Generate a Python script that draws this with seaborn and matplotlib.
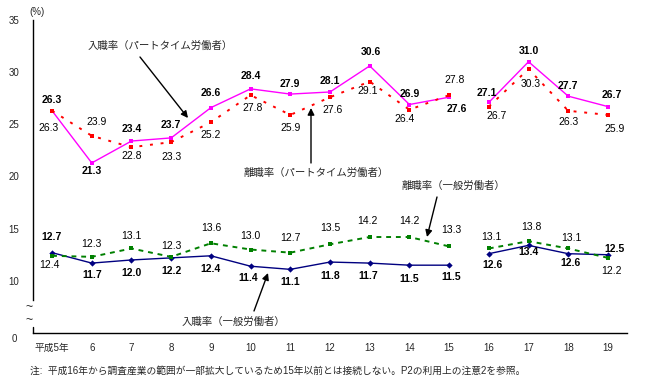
import numpy as np
import pandas as pd
import matplotlib
matplotlib.use("Agg")
import matplotlib.pyplot as plt
import seaborn as sns

# ---------------- data ----------------
years = ["平成5年", "6", "7", "8", "9", "10", "11", "12", "13", "14", "15",
         "16", "17", "18", "19"]
pt_entry = [26.3, 21.3, 23.4, 23.7, 26.6, 28.4, 27.9, 28.1, 30.6, 26.9, 27.6,
            27.1, 31.0, 27.7, 26.7]
pt_sep = [26.3, 23.9, 22.8, 23.3, 25.2, 27.8, 25.9, 27.6, 29.1, 26.4, 27.8,
          26.7, 30.3, 26.3, 25.9]
gen_entry = [12.7, 11.7, 12.0, 12.2, 12.4, 11.4, 11.1, 11.8, 11.7, 11.5, 11.5,
             12.6, 13.4, 12.6, 12.5]
gen_sep = [12.4, 12.3, 13.1, 12.3, 13.6, 13.0, 12.7, 13.5, 14.2, 14.2, 13.3,
           13.1, 13.8, 13.1, 12.2]
segment = [0] * 11 + [1] * 4   # series break between 15 and 16
yticks = [10, 15, 20, 25, 30, 35]

# ---------------- label offsets (pixels) ----------------
off_pt_entry = [(0, 11), (0, -8), (0, 12), (0, 13), (0, 15), (0, 13), (0, 10), (0, 11),
                (1, 14), (0, 11), (8, -12), (-2, 9), (0, 11), (0, 10), (4, 12)]
off_pt_sep = [(-3, -17), (5, 14), (0, -9), (0, -15), (0, -13), (2, -13), (0, -13), (3, -13),
              (-2, -9), (-5, -9), (6, 15), (8, -9), (2, -15), (0, -11), (7, -14)]
off_gen_entry = [(0, 16), (0, -12), (0, -13), (0, -13), (0, -13), (-2, -12), (0, -13), (0, -14),
                 (-1, -13), (0, -14), (2, -12), (4, -11), (0, -7), (2, -9), (7, 6)]
off_gen_sep = [(-3, -9), (0, 13), (0, 12), (0, 11), (0, 15), (0, 14), (0, 15), (0, 16),
               (-2, 16), (0, 16), (2, 16), (3, 11), (3, 14), (3, 10), (4, -13)]

sns.set_style("white")
plt.rcParams["font.family"] = ["Liberation Sans", "Noto Sans CJK JP", "DejaVu Sans"]

W, H = 645, 384
fig = plt.figure(figsize=(W / 100, H / 100), dpi=100)
ax = fig.add_axes([33 / W, 1 - 333 / H, (627 - 33) / W, (333 - 20) / H])

x = list(range(len(years)))
series = [
    ("pt_entry", pt_entry, "#FF00FF", "s", 2.8, None, 1.0),
    ("pt_sep", pt_sep, "#FF0000", "s", 3.2, (1.5, 4.0), 1.4),
    ("gen_entry", gen_entry, "#000080", "D", 3.2, None, 1.0),
    ("gen_sep", gen_sep, "#008000", "s", 3.0, (2.5, 2.5), 1.4),
]
for name, vals, col, mk, ms, dash, lw in series:
    df = pd.DataFrame({"x": x, "v": vals, "seg": segment})
    sns.lineplot(data=df, x="x", y="v", units="seg", estimator=None, ax=ax,
                 color=col, marker=mk, markersize=ms, markeredgewidth=0,
                 linewidth=lw, legend=False)
    if dash is not None:
        for ln in ax.lines[-2:]:
            ln.set_dashes(dash)

def labels(vals, offs, bold):
    for i, (v, (dx, dy)) in enumerate(zip(vals, offs)):
        ax.annotate(f"{v:.1f}", xy=(i, v), xytext=(dx, dy), textcoords="offset pixels",
                    ha="center", va="center", fontsize=7.5,
                    fontweight="bold" if bold else "normal", color="black")

labels(pt_entry, off_pt_entry, True)
labels(pt_sep, off_pt_sep, False)
labels(gen_entry, off_gen_entry, True)
labels(gen_sep, off_gen_sep, False)

ax.set_xlim(-0.48, 14.48)
ax.set_ylim(5.0, 35.0)
ax.set_xticks(x)
ax.set_xticklabels(years)
ax.set_yticks(yticks)
ax.set_yticklabels([str(t) for t in yticks])
ax.tick_params(axis="x", length=0, pad=7, labelsize=7)
ax.tick_params(axis="y", length=0, pad=10, labelsize=7)
ax.set_xlabel("")
ax.set_ylabel("")
for s in ["top", "right"]:
    ax.spines[s].set_visible(False)
for s in ["left", "bottom"]:
    ax.spines[s].set_color("black")
    ax.spines[s].set_linewidth(1.0)
ax.spines["left"].set_bounds(8.2, 35)
ax.plot([-0.48, -0.48], [5.0, 5.6], color="black", lw=1.0, clip_on=False)

# axis extras
fig.text(14 / W, 1 - 339 / H, "0", ha="center", va="center", fontsize=7)
fig.text(37 / W, 1 - 12 / H, "(%)", ha="center", va="center", fontsize=7)
fig.text(29 / W, 1 - 307 / H, "~", ha="center", va="center", fontsize=9)
fig.text(29 / W, 1 - 320 / H, "~", ha="center", va="center", fontsize=9)

def fp(px, py):
    return (px, H - py)

notes = [
    ("入職率（パートタイム労働者）", (160, 46), (140, 57), (188, 118)),
    ("離職率（パートタイム労働者）", (316, 173), (311, 163), (311, 108)),
    ("離職率（一般労働者）", (453, 186), (437, 197), (427, 237)),
    ("入職率（一般労働者）", (233, 322), (254, 311), (268, 273)),
]
for txt, tpos, a0, a1 in notes:
    fig.text(tpos[0] / W, 1 - tpos[1] / H, txt, ha="center", va="center", fontsize=7.5)
    ax.annotate("", xy=fp(*a1), xycoords="figure pixels",
                xytext=fp(*a0), textcoords="figure pixels",
                arrowprops=dict(arrowstyle="-|>", color="black", lw=1.0,
                                mutation_scale=10, shrinkA=0, shrinkB=0))

fig.text(30 / W, 1 - 371 / H,
         "注:  平成16年から調査産業の範囲が一部拡大しているため15年以前とは接続しない。P2の利用上の注意2を参照。",
         ha="left", va="center", fontsize=7)

fig.savefig("out.png", dpi=100)
